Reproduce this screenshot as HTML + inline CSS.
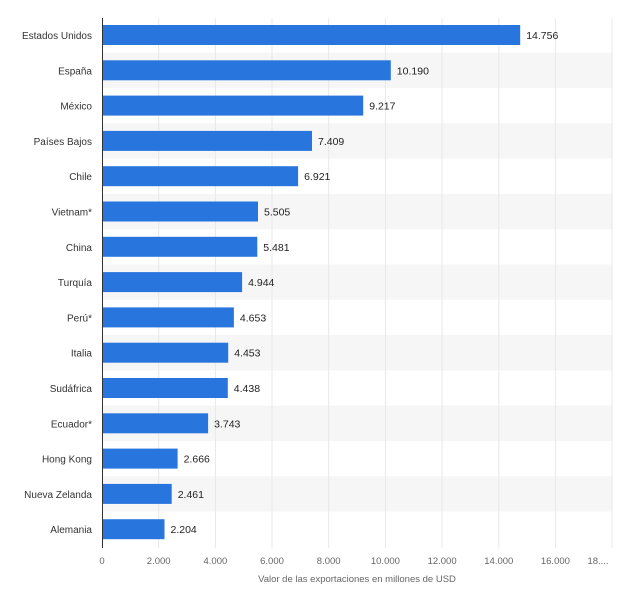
<!DOCTYPE html><html><head><meta charset="utf-8"><style>body{margin:0;background:#fff}svg{display:block}text{font-family:"Liberation Sans",sans-serif}</style></head><body>
<svg width="640" height="599" xmlns="http://www.w3.org/2000/svg">
<g fill="#f6f6f6">
<rect x="102" y="52.7" width="510" height="35.3"/><rect x="102" y="123.3" width="510" height="35.3"/><rect x="102" y="193.9" width="510" height="35.3"/><rect x="102" y="264.5" width="510" height="35.3"/><rect x="102" y="335.1" width="510" height="35.3"/><rect x="102" y="405.7" width="510" height="35.3"/><rect x="102" y="476.3" width="510" height="35.3"/>
</g>
<g stroke="#e8e8e8" stroke-width="1">
<line x1="158.7" y1="18" x2="158.7" y2="548"/><line x1="215.4" y1="18" x2="215.4" y2="548"/><line x1="272" y1="18" x2="272" y2="548"/><line x1="328.7" y1="18" x2="328.7" y2="548"/><line x1="385.4" y1="18" x2="385.4" y2="548"/><line x1="442.1" y1="18" x2="442.1" y2="548"/><line x1="498.8" y1="18" x2="498.8" y2="548"/><line x1="555.4" y1="18" x2="555.4" y2="548"/><line x1="612.1" y1="18" x2="612.1" y2="548"/>
</g>
<line x1="102.5" y1="18" x2="102.5" y2="548" stroke="#333" stroke-width="1"/>
<g fill="#2876dd">
<rect x="103" y="25" width="417.2" height="20"/>
<rect x="103" y="60.3" width="287.8" height="20"/>
<rect x="103" y="95.6" width="260.2" height="20"/>
<rect x="103" y="130.9" width="209" height="20"/>
<rect x="103" y="166.2" width="195.1" height="20"/>
<rect x="103" y="201.5" width="155" height="20"/>
<rect x="103" y="236.8" width="154.3" height="20"/>
<rect x="103" y="272.1" width="139.1" height="20"/>
<rect x="103" y="307.4" width="130.9" height="20"/>
<rect x="103" y="342.7" width="125.2" height="20"/>
<rect x="103" y="378" width="124.8" height="20"/>
<rect x="103" y="413.3" width="105.1" height="20"/>
<rect x="103" y="448.6" width="74.6" height="20"/>
<rect x="103" y="483.9" width="68.7" height="20"/>
<rect x="103" y="519.2" width="61.5" height="20"/>
</g>
<g font-size="10" fill="#333" text-anchor="end">
<text x="92" y="39">Estados Unidos</text><text x="92" y="74.3">España</text><text x="92" y="109.6">México</text><text x="92" y="144.9">Países Bajos</text><text x="92" y="180.2">Chile</text><text x="92" y="215.5">Vietnam*</text><text x="92" y="250.8">China</text><text x="92" y="286.1">Turquía</text><text x="92" y="321.4">Perú*</text><text x="92" y="356.7">Italia</text><text x="92" y="392">Sudáfrica</text><text x="92" y="427.3">Ecuador*</text><text x="92" y="462.6">Hong Kong</text><text x="92" y="497.9">Nueva Zelanda</text><text x="92" y="533.2">Alemania</text>
</g>
<g font-size="10.5" fill="#222">
<text x="526.2" y="39">14.756</text><text x="396.8" y="74.3">10.190</text><text x="369.2" y="109.6">9.217</text><text x="318" y="144.9">7.409</text><text x="304.1" y="180.2">6.921</text><text x="264" y="215.5">5.505</text><text x="263.3" y="250.8">5.481</text><text x="248.1" y="286.1">4.944</text><text x="239.9" y="321.4">4.653</text><text x="234.2" y="356.7">4.453</text><text x="233.8" y="392">4.438</text><text x="214.1" y="427.3">3.743</text><text x="183.6" y="462.6">2.666</text><text x="177.7" y="497.9">2.461</text><text x="170.5" y="533.2">2.204</text>
</g>
<g font-size="9.5" fill="#666" text-anchor="middle">
<text x="102" y="564">0</text><text x="158.7" y="564">2.000</text><text x="215.4" y="564">4.000</text><text x="272" y="564">6.000</text><text x="328.7" y="564">8.000</text><text x="385.4" y="564">10.000</text><text x="442.1" y="564">12.000</text><text x="498.8" y="564">14.000</text><text x="555.4" y="564">16.000</text><text x="598" y="564">18....</text>
<text x="357" y="582">Valor de las exportaciones en millones de USD</text>
</g>
</svg></body></html>
